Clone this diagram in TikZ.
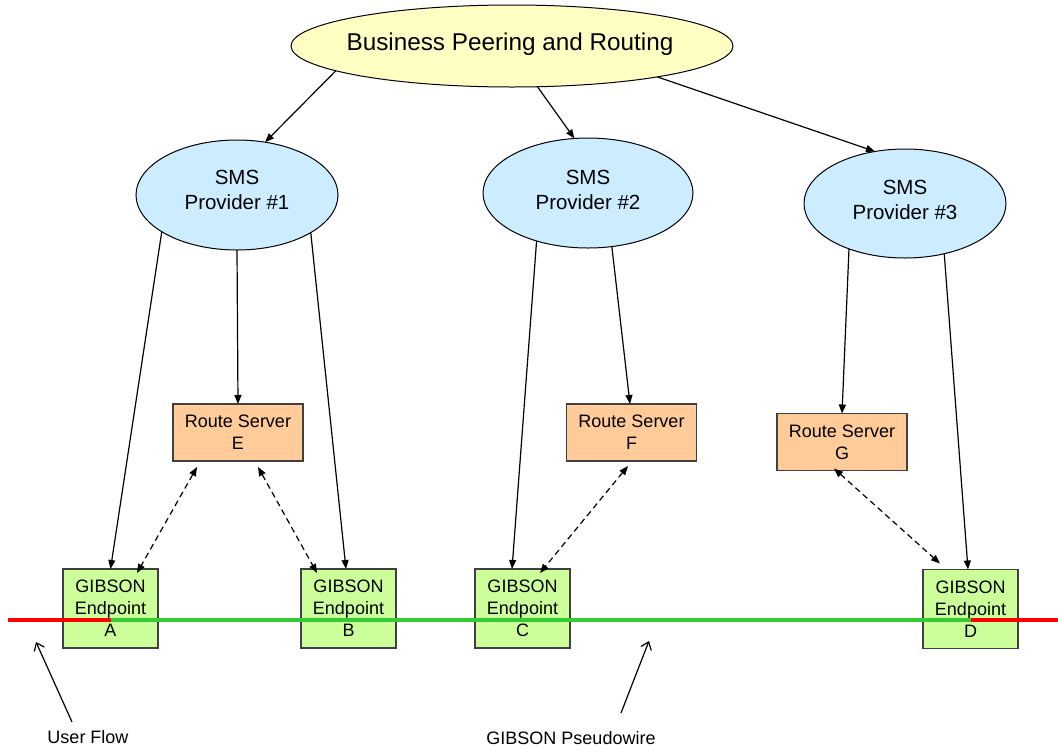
\documentclass[tikz,border=0pt]{standalone}
\usepackage{fontspec}
\setmainfont{Liberation Sans}
\usetikzlibrary{shapes.geometric,arrows.meta,calc}
\definecolor{bprfill}{HTML}{FFFFC4}
\definecolor{smsfill}{HTML}{CCECFF}
\definecolor{rsfill}{HTML}{FFCC99}
\definecolor{epfill}{HTML}{CCFF99}
\definecolor{boxline}{HTML}{404040}
\definecolor{pwgreen}{HTML}{33CC33}
\definecolor{flowred}{HTML}{FF0000}
\begin{document}
\begin{tikzpicture}[x=1pt,y=-1pt,
  every node/.style={inner sep=0pt,outer sep=0pt},
  topell/.style={ellipse,draw=black,line width=1pt,fill=bprfill,
    minimum width=442pt,minimum height=82pt},
  smsell/.style={ellipse,draw=black,line width=1pt,fill=smsfill},
  toptext/.style={font=\fontsize{24.3}{29}\selectfont},
  smstext/.style={align=center,font=\fontsize{20.5}{25}\selectfont},
  rsbox/.style={rectangle,draw=boxline,line width=1.3pt,fill=rsfill,
    minimum width=130pt,minimum height=57pt,align=center,
    font=\fontsize{18}{22}\selectfont},
  epbox/.style={rectangle,draw=boxline,line width=1.3pt,fill=epfill,
    minimum width=95pt,minimum height=79pt,align=center,
    font=\fontsize{18}{22}\selectfont},
  lbl/.style={font=\fontsize{18}{22}\selectfont},
  arr/.style={line width=1.2pt,-{Triangle[length=9pt,width=7pt]}},
  dbl/.style={line width=1.2pt,dash pattern=on 6pt off 4pt,
    {Triangle[length=9pt,width=7pt]}-{Triangle[length=9pt,width=7pt]}},
  openarr/.style={line width=1.2pt,-{Straight Barb[length=7pt,width=11pt]}},
  greenline/.style={line width=4pt,draw=pwgreen},
  redline/.style={line width=4pt,draw=flowred}]
\useasboundingbox (0,0) rectangle (1058,748);

% top-level peering entity
\node[topell] (bpr) at (512,46) {};
\node[toptext] (bprtxt) at (510,44) {Business Peering and Routing};

% SMS providers
\node[smsell,minimum width=202pt,minimum height=110pt] (s1) at (237,195) {};
\node[smstext] (s1txt) at (237,190) {SMS\\Provider \#1};
\node[smsell,minimum width=210pt,minimum height=110pt] (s2) at (588,193) {};
\node[smstext] (s2txt) at (588,189.5) {SMS\\Provider \#2};
\node[smsell,minimum width=202pt,minimum height=109pt] (s3) at (905,203.5) {};
\node[smstext] (s3txt) at (905,200) {SMS\\Provider \#3};

% route servers
\node[rsbox] (E) at (238,432.5) {Route Server\\E};
\node[rsbox] (F) at (631.5,432.5) {Route Server\\F};
\node[rsbox] (G) at (842,442) {Route Server\\G};

% endpoints
\node[epbox] (A) at (110.5,608.5) {GIBSON\\Endpoint\\A};
\node[epbox] (B) at (348.5,608.5) {GIBSON\\Endpoint\\B};
\node[epbox] (C) at (522.5,608.5) {GIBSON\\Endpoint\\C};
\node[epbox] (D) at (970.5,609) {GIBSON\\Endpoint\\D};

% peering to providers
\draw[arr] (bpr.188.6) -- (s1.62.2);
\draw[arr] (bpr.302.4) -- (s2.104.6);
\draw[arr] (bpr.348.6) -- (s3.120.6);

% providers to route servers and endpoints
\draw[arr] (s1.206.6) -- (A.north);
\draw[arr] (s1.270) -- (E.north);
\draw[arr] (s1.333.4) -- ($(B.north)+(-2.5,0)$);
\draw[arr] (s2.223.8) -- ($(C.north)+(-10.5,0)$);
\draw[arr] (s2.294.8) -- ($(F.north)+(-1.5,0)$);
\draw[arr] (s3.219.7) -- (G.north);
\draw[arr] (s3.308.5) -- ($(D.north)+(-2.5,0)$);

% route server sessions
\draw[dbl] ($(E.south)+(-41,6)$) -- ($(A.north)+(26.5,4)$);
\draw[dbl] ($(E.south)+(20,6)$) -- ($(B.north)+(-31.5,4)$);
\draw[dbl] ($(F.south)+(-3.5,5)$) -- ($(C.north)+(17.5,4)$);
\draw[dbl] ($(G.south)+(-8,-2)$) -- ($(D.north)+(-30.5,-6)$);

% user flow and pseudowire
\coordinate (pwY) at (0,620);
\coordinate (pwL) at (8,620);
\coordinate (pwR) at (1058,620);
\draw[redline] (pwL) -- (A |- pwY);
\draw[greenline] (A |- pwY) -- (D |- pwY);
\draw[redline] (D |- pwY) -- (pwR);

% captions
\node[lbl,anchor=base] (uf) at (88,743) {User Flow};
\coordinate (ufTip) at (36,642);
\draw[openarr] ($(uf.north)+(-16,-8)$) -- (ufTip);
\node[lbl,anchor=base] (pw) at (571,744) {GIBSON Pseudowire};
\coordinate (pwTip) at (649,641);
\draw[openarr] ($(pw.north)+(50,-18)$) -- (pwTip);
\end{tikzpicture}
\end{document}
